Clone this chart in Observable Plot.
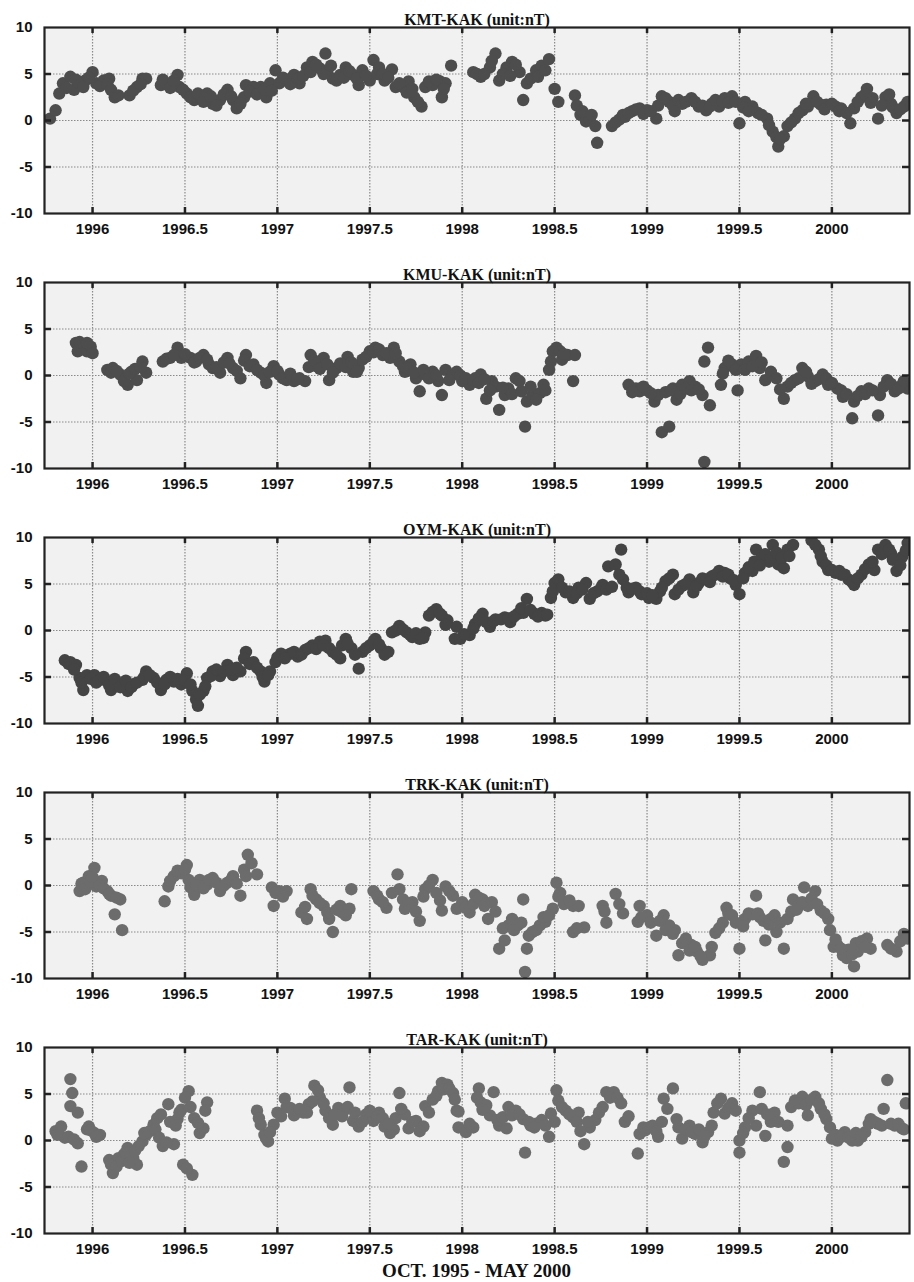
<!DOCTYPE html>
<html><head><meta charset="utf-8">
<script src="https://cdn.jsdelivr.net/npm/d3@7"></script>
<script src="https://cdn.jsdelivr.net/npm/@observablehq/plot@0.6"></script>
<style>
body{margin:0;background:#fff;}
#chart svg{display:block;}
.caption{font:bold 19px "Liberation Serif","Times New Roman",serif;text-align:center;padding:0 5px 0 44px;line-height:20px;color:#111;}
</style></head><body><div id="chart"></div><script>
const titles = ["KMT-KAK (unit:nT)","KMU-KAK (unit:nT)","OYM-KAK (unit:nT)","TRK-KAK (unit:nT)","TAR-KAK (unit:nT)"];
const caption = "OCT. 1995 - MAY 2000";
const xTicks = [1996,1996.5,1997,1997.5,1998,1998.5,1999,1999.5,2000];
const yTicks = [-10,-5,0,5,10];
const yGrid = [-5,0,5];
const dotColors = ["#4d4d4d","#4d4d4d","#444444","#6c6c6c","#6c6c6c"];

const KMT = [[1995.77,0.2],[1995.80,1.1],[1995.82,2.9],[1995.84,4.0],[1995.88,4.7],[1995.90,3.3],[1995.93,4.0],[1995.96,4.3],[1996.00,5.2],[1996.02,4.0],[1996.06,4.3],[1996.09,4.5],[1996.12,2.5],[1996.20,2.7],[1996.24,3.6],[1996.27,4.5],[1996.29,4.5],[1996.37,3.8],[1996.40,4.0],[1996.46,4.9],[1996.47,3.6],[1996.51,2.9],[1996.55,2.2],[1996.58,2.5],[1996.62,2.9],[1996.65,1.8],[1996.69,2.2],[1996.73,3.3],[1996.76,2.2],[1996.78,1.3],[1996.82,2.5],[1996.83,3.8],[1996.87,3.6],[1996.91,3.6],[1996.94,2.5],[1996.96,4.0],[1996.99,5.4],[1997.01,4.0],[1997.05,4.3],[1997.09,4.9],[1997.12,4.0],[1997.16,5.7],[1997.19,6.3],[1997.23,5.6],[1997.26,7.2],[1997.27,5.2],[1997.30,4.5],[1997.34,4.9],[1997.37,5.7],[1997.41,4.9],[1997.44,3.8],[1997.46,5.4],[1997.50,4.3],[1997.52,6.5],[1997.55,5.7],[1997.58,4.3],[1997.62,5.5],[1997.64,3.6],[1997.68,3.6],[1997.71,4.2],[1997.74,2.5],[1997.78,1.5],[1997.80,3.6],[1997.84,3.8],[1997.88,4.2],[1997.89,2.5],[1997.91,4.0],[1997.94,5.9],[1998.06,5.2],[1998.10,4.7],[1998.15,5.7],[1998.18,7.2],[1998.20,4.3],[1998.24,5.7],[1998.27,6.3],[1998.31,5.2],[1998.33,2.2],[1998.35,4.0],[1998.40,5.4],[1998.43,5.9],[1998.47,6.6],[1998.50,3.4],[1998.52,2.0],[1998.61,2.7],[1998.64,0.6],[1998.67,-0.1],[1998.69,0.1],[1998.72,-0.6],[1998.73,-2.4],[1998.81,-0.6],[1998.85,0.1],[1998.88,0.4],[1998.92,1.0],[1998.96,1.3],[1999.00,1.1],[1999.05,0.2],[1999.08,2.6],[1999.12,2.0],[1999.15,1.0],[1999.19,1.8],[1999.24,2.4],[1999.28,1.5],[1999.32,1.1],[1999.35,1.8],[1999.39,1.5],[1999.42,2.4],[1999.46,2.6],[1999.50,-0.3],[1999.53,2.0],[1999.57,1.5],[1999.60,0.8],[1999.65,0.2],[1999.68,-1.2],[1999.71,-2.8],[1999.74,-1.7],[1999.76,-0.6],[1999.80,0.2],[1999.84,1.1],[1999.87,1.5],[1999.90,2.6],[1999.94,1.7],[1999.97,1.7],[2000.02,1.5],[2000.05,1.3],[2000.10,-0.3],[2000.12,1.3],[2000.16,2.5],[2000.19,3.4],[2000.22,2.4],[2000.25,0.2],[2000.29,2.5],[2000.32,1.8],[2000.35,0.8],[2000.39,1.5],[2000.41,2.0],
[1995.86,3.5],[1995.91,4.4],[1995.95,3.6],[1995.98,4.6],[1996.04,3.7],[1996.08,3.9],[1996.10,3.3],[1996.14,2.7],[1996.22,3.2],[1996.26,3.9],[1996.38,4.4],[1996.42,3.5],[1996.44,4.3],[1996.49,3.3],[1996.53,2.5],[1996.57,2.9],[1996.60,2.0],[1996.64,2.6],[1996.67,1.6],[1996.71,2.8],[1996.75,2.6],[1996.80,1.8],[1996.85,3.1],[1996.89,2.8],[1996.93,3.3],[1996.97,3.2],[1997.03,4.6],[1997.07,3.9],[1997.11,4.5],[1997.14,4.8],[1997.18,5.2],[1997.21,6.0],[1997.25,5.0],[1997.29,5.9],[1997.32,4.3],[1997.36,4.6],[1997.39,5.3],[1997.43,4.5],[1997.48,4.8],[1997.54,5.0],[1997.57,5.0],[1997.60,4.6],[1997.66,4.0],[1997.70,3.0],[1997.73,3.4],[1997.76,2.0],[1997.82,4.2],[1997.86,4.4],[1997.90,3.4],
[1998.08,5.0],[1998.12,5.0],[1998.16,6.4],[1998.22,5.0],[1998.26,4.8],[1998.29,6.0],[1998.37,4.5],[1998.41,4.7],[1998.45,5.4],[1998.62,1.6],[1998.65,1.0],[1998.70,0.6],[1998.83,-0.2],[1998.87,0.6],[1998.90,0.8],[1998.94,1.2],[1998.98,0.7],[1999.02,1.0],[1999.06,1.6],[1999.10,2.4],[1999.14,1.6],[1999.17,2.2],[1999.21,2.0],[1999.26,2.0],[1999.30,1.6],[1999.34,1.5],[1999.37,2.2],[1999.41,2.0],[1999.44,1.9],[1999.48,2.0],[1999.52,1.4],[1999.55,1.0],[1999.62,0.6],[1999.66,-0.5],[1999.70,-1.8],[1999.72,-2.0],[1999.78,-0.2],[1999.82,0.8],[1999.86,1.8],[1999.92,2.0],[1999.96,1.2],[2000.00,1.8],[2000.04,1.0],[2000.08,0.8],[2000.14,2.0],[2000.18,2.8],[2000.21,1.9],[2000.27,1.6],[2000.31,2.8],[2000.33,1.4],[2000.37,1.2]];

const KMU = [[1995.91,3.5],[1995.92,2.6],[1995.95,3.3],[1995.97,2.6],[1995.99,3.1],[1996.00,2.4],[1996.08,0.6],[1996.11,0.8],[1996.15,0.1],[1996.19,-1.0],[1996.21,0.4],[1996.24,-0.5],[1996.27,1.5],[1996.29,0.3],[1996.38,1.5],[1996.42,1.9],[1996.46,3.0],[1996.48,1.9],[1996.53,1.9],[1996.56,1.5],[1996.60,2.2],[1996.63,1.2],[1996.65,0.8],[1996.69,0.3],[1996.73,1.9],[1996.76,0.8],[1996.80,-0.3],[1996.83,2.2],[1996.87,1.2],[1996.91,0.3],[1996.94,-0.8],[1996.98,1.0],[1997.01,0.1],[1997.05,-0.5],[1997.09,-0.6],[1997.12,-0.3],[1997.15,-0.6],[1997.18,2.2],[1997.21,1.0],[1997.25,1.9],[1997.28,-0.5],[1997.32,0.8],[1997.35,1.2],[1997.38,2.0],[1997.41,0.4],[1997.44,0.8],[1997.46,1.7],[1997.50,2.6],[1997.53,3.0],[1997.57,2.2],[1997.61,1.9],[1997.63,3.0],[1997.66,1.5],[1997.69,0.4],[1997.72,1.2],[1997.75,-0.3],[1997.77,-1.7],[1997.80,0.1],[1997.84,0.4],[1997.87,-0.6],[1997.89,-2.1],[1997.91,0.6],[1997.95,0.1],[1997.97,0.4],[1998.00,-0.6],[1998.04,-1.0],[1998.07,-0.3],[1998.10,0.1],[1998.13,-2.5],[1998.16,-0.6],[1998.18,-1.2],[1998.20,-3.7],[1998.23,-2.1],[1998.25,-1.4],[1998.29,-0.3],[1998.32,-1.7],[1998.34,-5.5],[1998.35,-2.8],[1998.38,-2.1],[1998.42,-1.9],[1998.44,-1.0],[1998.47,0.6],[1998.49,2.6],[1998.51,3.0],[1998.54,1.7],[1998.57,2.2],[1998.60,-0.6],[1998.61,2.2],[1998.90,-1.0],[1998.94,-1.4],[1998.96,-1.7],[1999.00,-1.6],[1999.04,-2.8],[1999.06,-2.1],[1999.08,-6.1],[1999.12,-5.5],[1999.14,-1.4],[1999.16,-2.6],[1999.19,-1.0],[1999.23,-0.6],[1999.26,-1.2],[1999.30,-2.1],[1999.31,-9.3],[1999.31,1.5],[1999.33,3.0],[1999.34,-3.2],[1999.40,-1.0],[1999.42,0.8],[1999.46,1.2],[1999.49,-1.6],[1999.51,1.2],[1999.55,1.5],[1999.59,2.1],[1999.61,0.8],[1999.64,-0.5],[1999.67,0.4],[1999.74,-2.5],[1999.76,-1.2],[1999.80,-0.5],[1999.84,0.8],[1999.87,-0.1],[1999.91,-0.6],[1999.95,0.1],[1999.98,-1.0],[2000.03,-1.4],[2000.06,-2.3],[2000.11,-4.6],[2000.12,-2.8],[2000.16,-1.7],[2000.20,-1.4],[2000.25,-4.3],[2000.26,-2.1],[2000.30,-0.5],[2000.34,-1.7],[2000.38,-1.0],[2000.41,-1.4],
[1995.93,3.6],[1995.97,3.5],[1996.10,0.3],[1996.13,0.5],[1996.17,-0.6],[1996.20,0.2],[1996.23,0.7],[1996.26,0.9],[1996.40,1.8],[1996.44,2.2],[1996.50,2.3],[1996.55,1.4],[1996.58,1.9],[1996.62,1.7],[1996.67,0.9],[1996.71,1.4],[1996.74,1.3],[1996.78,0.5],[1996.82,1.6],[1996.85,1.0],[1996.89,0.6],[1996.93,0.0],[1996.96,0.4],[1997.00,0.5],[1997.03,-0.3],[1997.07,0.2],[1997.11,-0.4],[1997.17,0.9],[1997.20,1.6],[1997.23,0.7],[1997.27,1.2],[1997.30,0.3],[1997.34,1.3],[1997.37,0.9],[1997.40,1.4],[1997.43,0.4],[1997.48,2.0],[1997.52,2.5],[1997.55,2.8],[1997.59,2.4],[1997.64,2.4],[1997.68,1.0],[1997.70,0.8],[1997.74,0.3],[1997.79,0.6],[1997.82,-0.3],[1997.86,0.0],[1997.93,-0.5],[1997.99,0.0],[1998.02,-0.3],[1998.06,-0.5],[1998.09,-0.8],[1998.12,-0.4],[1998.15,-1.6],[1998.22,-1.3],[1998.27,-2.0],[1998.31,-0.6],[1998.37,-1.2],[1998.40,-2.6],[1998.45,-1.6],[1998.48,1.5],[1998.53,2.6],[1998.55,2.3],[1998.92,-1.8],[1998.98,-1.2],[1999.02,-1.9],[1999.10,-1.8],[1999.13,-1.6],[1999.18,-2.0],[1999.21,-1.4],[1999.24,-1.6],[1999.28,-1.5],[1999.41,0.2],[1999.44,1.6],[1999.48,0.6],[1999.53,0.6],[1999.57,1.0],[1999.62,1.4],[1999.70,-0.3],[1999.72,-1.5],[1999.78,-0.8],[1999.82,-0.3],[1999.86,0.4],[1999.89,-0.9],[1999.93,-0.4],[1999.97,-0.3],[2000.00,-0.8],[2000.05,-1.6],[2000.08,-2.0],[2000.14,-2.2],[2000.18,-2.0],[2000.22,-1.6],[2000.28,-1.2],[2000.32,-0.9],[2000.36,-1.4],[2000.39,-0.6]];

const OYM = [[1995.85,-3.2],[1995.88,-3.4],[1995.91,-3.7],[1995.93,-5.1],[1995.95,-6.4],[1995.97,-4.8],[1996.01,-4.8],[1996.04,-5.3],[1996.08,-5.5],[1996.10,-6.4],[1996.13,-6.0],[1996.17,-5.7],[1996.19,-6.5],[1996.22,-5.8],[1996.27,-5.3],[1996.29,-4.4],[1996.33,-5.1],[1996.37,-6.4],[1996.40,-5.3],[1996.44,-5.5],[1996.48,-5.8],[1996.51,-4.6],[1996.54,-6.5],[1996.56,-7.4],[1996.57,-8.1],[1996.60,-6.5],[1996.62,-5.1],[1996.65,-4.4],[1996.69,-4.9],[1996.73,-3.7],[1996.76,-4.8],[1996.80,-4.4],[1996.83,-2.3],[1996.87,-3.4],[1996.91,-4.4],[1996.93,-5.5],[1996.96,-4.4],[1996.99,-3.4],[1997.02,-2.5],[1997.07,-2.5],[1997.11,-2.8],[1997.15,-2.1],[1997.19,-1.6],[1997.23,-1.2],[1997.26,-1.1],[1997.30,-2.3],[1997.34,-3.0],[1997.37,-0.9],[1997.40,-1.9],[1997.44,-4.1],[1997.46,-2.3],[1997.50,-1.6],[1997.53,-0.9],[1997.56,-1.9],[1997.60,-2.3],[1997.62,-0.2],[1997.66,0.5],[1997.70,-0.2],[1997.73,-0.7],[1997.77,-0.9],[1997.80,-0.2],[1997.82,1.6],[1997.86,2.3],[1997.89,1.6],[1997.92,1.1],[1997.96,-0.9],[1997.97,0.4],[1997.99,-0.9],[1998.04,-0.5],[1998.07,0.7],[1998.11,1.8],[1998.15,0.4],[1998.18,1.2],[1998.23,1.4],[1998.26,0.9],[1998.30,1.8],[1998.33,1.9],[1998.35,3.4],[1998.39,1.8],[1998.43,1.9],[1998.45,1.6],[1998.48,3.5],[1998.50,5.1],[1998.52,5.5],[1998.56,4.1],[1998.60,3.5],[1998.63,4.6],[1998.67,5.1],[1998.69,3.4],[1998.73,4.2],[1998.76,4.9],[1998.79,6.9],[1998.83,7.1],[1998.86,8.7],[1998.87,5.5],[1998.90,4.1],[1998.94,4.6],[1998.97,3.9],[1999.01,3.5],[1999.05,3.4],[1999.07,4.2],[1999.10,5.3],[1999.14,6.0],[1999.15,3.9],[1999.19,4.8],[1999.23,5.5],[1999.25,4.1],[1999.28,5.1],[1999.32,5.5],[1999.35,5.8],[1999.39,6.4],[1999.42,6.2],[1999.45,5.6],[1999.48,4.9],[1999.50,3.9],[1999.53,6.2],[1999.57,6.4],[1999.59,8.7],[1999.62,7.8],[1999.66,7.4],[1999.68,9.2],[1999.71,7.1],[1999.74,6.7],[1999.76,8.7],[1999.79,9.2],[1999.89,9.7],[1999.93,8.7],[1999.95,7.4],[1999.98,6.5],[2000.02,6.2],[2000.05,6.0],[2000.09,5.5],[2000.12,4.9],[2000.16,6.0],[2000.20,7.1],[2000.23,6.5],[2000.25,8.7],[2000.29,9.2],[2000.32,8.3],[2000.35,6.4],[2000.38,7.9],[2000.41,9.4],
[1995.87,-3.6],[1995.90,-4.2],[1995.94,-5.6],[1995.99,-5.2],[1996.02,-5.6],[1996.06,-5.0],[1996.09,-5.9],[1996.12,-5.2],[1996.15,-6.1],[1996.18,-5.4],[1996.21,-6.1],[1996.24,-5.6],[1996.28,-5.0],[1996.31,-4.8],[1996.35,-5.6],[1996.39,-5.8],[1996.42,-5.0],[1996.46,-5.2],[1996.50,-5.4],[1996.53,-5.8],[1996.58,-6.9],[1996.61,-6.0],[1996.64,-4.9],[1996.67,-4.2],[1996.71,-4.4],[1996.75,-4.2],[1996.78,-4.0],[1996.82,-3.0],[1996.85,-3.6],[1996.89,-4.0],[1996.92,-5.0],[1996.95,-4.8],[1997.00,-2.9],[1997.04,-3.0],[1997.09,-2.3],[1997.13,-2.6],[1997.17,-1.9],[1997.21,-2.0],[1997.25,-1.6],[1997.28,-1.9],[1997.32,-2.6],[1997.35,-1.6],[1997.38,-1.4],[1997.42,-2.6],[1997.48,-1.9],[1997.52,-1.2],[1997.55,-1.5],[1997.58,-2.6],[1997.64,0.0],[1997.68,0.1],[1997.72,-0.5],[1997.75,-0.3],[1997.79,-0.8],[1997.84,2.0],[1997.88,1.8],[1997.91,0.6],[1998.01,-0.4],[1998.06,0.2],[1998.09,1.3],[1998.13,0.9],[1998.17,1.0],[1998.21,1.2],[1998.25,1.3],[1998.28,1.5],[1998.32,2.4],[1998.37,2.2],[1998.41,1.5],[1998.46,1.7],[1998.49,4.2],[1998.54,4.6],[1998.58,4.2],[1998.62,4.0],[1998.65,4.4],[1998.71,4.0],[1998.75,4.5],[1998.78,4.4],[1998.81,4.7],[1998.85,6.0],[1998.89,4.6],[1998.92,4.5],[1998.96,4.2],[1999.00,4.0],[1999.03,3.8],[1999.08,4.6],[1999.12,5.6],[1999.17,4.4],[1999.21,5.0],[1999.27,4.8],[1999.30,5.6],[1999.34,5.2],[1999.37,6.0],[1999.41,5.8],[1999.44,6.0],[1999.47,5.4],[1999.52,5.6],[1999.55,6.8],[1999.58,7.4],[1999.61,7.0],[1999.64,8.2],[1999.67,7.8],[1999.70,8.4],[1999.73,7.8],[1999.77,8.0],[1999.91,9.2],[1999.94,8.0],[1999.97,7.0],[2000.00,6.5],[2000.04,6.4],[2000.07,6.0],[2000.11,5.2],[2000.14,5.6],[2000.18,6.6],[2000.22,7.4],[2000.27,8.2],[2000.31,8.7],[2000.33,7.6],[2000.37,7.0],[2000.40,8.6]];

const TRK = [[1995.93,-0.6],[1995.95,0.3],[1995.98,1.0],[1996.01,1.9],[1996.02,-0.1],[1996.05,0.5],[1996.08,-0.6],[1996.10,-1.1],[1996.12,-3.1],[1996.15,-1.5],[1996.16,-4.8],[1996.39,-1.7],[1996.41,-0.1],[1996.44,1.0],[1996.48,1.3],[1996.51,2.2],[1996.53,-0.2],[1996.55,-1.0],[1996.58,0.6],[1996.62,0.1],[1996.65,0.8],[1996.69,-0.6],[1996.73,0.3],[1996.76,1.0],[1996.80,-1.1],[1996.82,1.7],[1996.84,3.3],[1996.86,2.4],[1996.89,1.2],[1996.97,-0.2],[1996.98,-2.2],[1997.01,-0.6],[1997.05,-0.6],[1997.13,-2.9],[1997.16,-3.6],[1997.18,-0.4],[1997.21,-1.5],[1997.25,-2.2],[1997.28,-3.6],[1997.30,-5.0],[1997.34,-2.2],[1997.35,-2.9],[1997.39,-2.5],[1997.40,-0.4],[1997.52,-0.6],[1997.55,-1.5],[1997.59,-2.4],[1997.65,1.2],[1997.66,-0.4],[1997.69,-2.5],[1997.73,-1.8],[1997.77,-3.8],[1997.80,-0.4],[1997.84,0.6],[1997.86,-0.8],[1997.89,-2.7],[1997.91,-0.1],[1997.95,-1.1],[1997.97,-2.5],[1998.00,-1.8],[1998.04,-2.9],[1998.07,-1.0],[1998.11,-1.5],[1998.14,-3.6],[1998.16,-1.8],[1998.20,-6.8],[1998.23,-5.9],[1998.25,-4.3],[1998.27,-3.6],[1998.30,-4.3],[1998.33,-1.5],[1998.34,-9.3],[1998.35,-6.8],[1998.38,-5.0],[1998.42,-4.3],[1998.45,-3.9],[1998.49,-2.5],[1998.51,0.3],[1998.53,-0.8],[1998.56,-1.8],[1998.60,-2.2],[1998.60,-5.0],[1998.63,-2.2],[1998.66,-4.5],[1998.76,-2.2],[1998.78,-4.0],[1998.83,-0.9],[1998.87,-3.0],[1998.95,-3.9],[1998.96,-2.2],[1999.00,-3.2],[1999.05,-5.4],[1999.09,-3.2],[1999.12,-4.3],[1999.15,-4.8],[1999.17,-7.5],[1999.21,-5.7],[1999.24,-6.4],[1999.27,-7.1],[1999.30,-8.0],[1999.34,-7.5],[1999.37,-5.1],[1999.41,-4.0],[1999.43,-2.4],[1999.46,-3.2],[1999.50,-6.8],[1999.53,-3.6],[1999.57,-3.1],[1999.59,-1.1],[1999.61,-3.4],[1999.64,-5.9],[1999.67,-3.6],[1999.70,-5.0],[1999.74,-6.8],[1999.76,-3.6],[1999.79,-1.5],[1999.82,-2.2],[1999.85,-0.2],[1999.87,-2.2],[1999.91,-0.6],[1999.94,-2.7],[1999.98,-3.6],[2000.01,-6.6],[2000.03,-6.4],[2000.06,-7.5],[2000.09,-6.9],[2000.12,-8.7],[2000.14,-7.1],[2000.19,-5.7],[2000.21,-6.8],[2000.30,-6.4],[2000.35,-7.1],[2000.39,-5.2],[2000.41,-5.7],
[1995.94,0.2],[1995.96,-0.4],[1995.99,0.4],[1996.00,0.9],[1996.04,0.0],[1996.06,-0.3],[1996.09,-0.9],[1996.13,-1.3],[1996.42,0.5],[1996.46,1.6],[1996.50,1.7],[1996.52,0.6],[1996.56,0.0],[1996.60,-0.3],[1996.63,0.6],[1996.67,0.3],[1996.71,0.0],[1996.75,0.6],[1996.78,0.2],[1996.83,1.0],[1996.99,-0.8],[1997.03,-1.2],[1997.15,-2.3],[1997.19,-1.1],[1997.23,-1.9],[1997.27,-2.9],[1997.32,-2.6],[1997.37,-3.2],[1997.54,-1.1],[1997.57,-1.8],[1997.62,-0.8],[1997.68,-1.5],[1997.71,-2.0],[1997.75,-2.8],[1997.79,-1.2],[1997.82,0.0],[1997.88,-1.6],[1997.93,-0.6],[1998.02,-2.4],[1998.06,-2.0],[1998.09,-1.3],[1998.12,-2.2],[1998.18,-2.8],[1998.22,-4.6],[1998.28,-4.8],[1998.32,-4.0],[1998.36,-5.4],[1998.40,-4.8],[1998.44,-3.4],[1998.47,-3.2],[1998.52,-1.2],[1998.55,-2.0],[1998.58,-1.6],[1998.62,-4.6],[1998.77,-2.8],[1998.85,-2.0],[1998.97,-3.4],[1999.02,-4.0],[1999.07,-3.8],[1999.10,-4.8],[1999.14,-5.2],[1999.19,-6.2],[1999.23,-7.0],[1999.26,-6.6],[1999.29,-7.6],[1999.35,-6.6],[1999.39,-4.6],[1999.44,-3.0],[1999.48,-4.0],[1999.52,-4.4],[1999.55,-3.0],[1999.60,-3.0],[1999.63,-3.8],[1999.66,-4.2],[1999.69,-3.2],[1999.72,-4.0],[1999.78,-2.8],[1999.81,-2.6],[1999.84,-1.8],[1999.89,-1.4],[1999.92,-2.0],[1999.96,-3.0],[1999.99,-4.8],[2000.02,-5.8],[2000.05,-6.8],[2000.08,-7.8],[2000.11,-7.4],[2000.13,-6.2],[2000.16,-6.0],[2000.18,-6.6],[2000.32,-6.8],[2000.37,-6.0]];

const TAR = [[1995.80,1.0],[1995.83,1.5],[1995.85,0.3],[1995.88,6.6],[1995.89,5.1],[1995.88,3.7],[1995.92,3.0],[1995.92,-0.3],[1995.94,-2.8],[1995.97,1.2],[1995.98,1.5],[1996.01,0.8],[1996.04,0.6],[1996.09,-2.1],[1996.11,-3.5],[1996.14,-1.9],[1996.17,-1.5],[1996.19,-0.8],[1996.22,-1.9],[1996.24,-2.6],[1996.27,-0.1],[1996.29,0.6],[1996.33,1.7],[1996.35,2.4],[1996.37,2.8],[1996.38,-0.6],[1996.41,3.9],[1996.44,-0.4],[1996.46,2.3],[1996.48,3.3],[1996.49,-2.6],[1996.52,5.3],[1996.54,-3.7],[1996.55,2.4],[1996.58,0.8],[1996.60,1.3],[1996.62,4.1],[1996.89,3.2],[1996.91,1.7],[1996.93,0.6],[1996.95,-0.1],[1996.98,1.7],[1997.00,3.0],[1997.04,4.5],[1997.07,3.5],[1997.10,3.0],[1997.14,3.0],[1997.17,3.9],[1997.20,5.9],[1997.23,4.6],[1997.26,3.2],[1997.30,1.7],[1997.33,3.5],[1997.36,3.2],[1997.39,5.7],[1997.41,2.1],[1997.44,1.5],[1997.48,2.8],[1997.52,2.1],[1997.55,3.0],[1997.58,1.5],[1997.61,0.8],[1997.64,2.4],[1997.66,5.1],[1997.69,2.8],[1997.71,1.3],[1997.75,2.1],[1997.79,1.5],[1997.80,3.7],[1997.84,4.4],[1997.87,5.3],[1997.89,6.2],[1997.92,6.0],[1997.95,5.1],[1997.97,3.2],[1997.98,1.4],[1997.98,3.1],[1998.02,0.9],[1998.06,1.4],[1998.09,5.6],[1998.10,4.1],[1998.13,3.8],[1998.15,2.7],[1998.17,5.2],[1998.20,1.6],[1998.24,1.3],[1998.25,3.6],[1998.29,3.2],[1998.33,2.3],[1998.34,-1.3],[1998.37,1.6],[1998.40,1.8],[1998.43,2.2],[1998.47,0.4],[1998.50,2.0],[1998.51,5.4],[1998.52,4.3],[1998.56,3.2],[1998.60,2.5],[1998.63,3.0],[1998.66,-0.4],[1998.69,1.4],[1998.72,2.2],[1998.76,3.6],[1998.78,5.2],[1998.82,5.2],[1998.86,4.0],[1998.88,2.0],[1998.95,-1.4],[1998.96,0.7],[1998.99,1.1],[1999.03,1.6],[1999.06,0.4],[1999.09,4.5],[1999.11,3.4],[1999.14,5.6],[1999.16,2.3],[1999.19,0.2],[1999.23,1.6],[1999.26,0.7],[1999.30,-0.2],[1999.33,0.9],[1999.36,3.0],[1999.40,4.5],[1999.42,2.9],[1999.46,4.0],[1999.50,-1.3],[1999.50,0.0],[1999.53,1.4],[1999.57,3.2],[1999.59,1.6],[1999.61,5.2],[1999.64,0.5],[1999.67,2.0],[1999.69,3.0],[1999.74,-2.3],[1999.76,-0.7],[1999.76,1.6],[1999.80,4.3],[1999.84,4.7],[1999.87,2.7],[1999.91,4.7],[1999.94,3.4],[1999.97,2.3],[2000.00,0.2],[2000.03,0.0],[2000.07,0.9],[2000.11,0.0],[2000.14,0.0],[2000.18,0.9],[2000.21,2.3],[2000.25,1.8],[2000.28,3.4],[2000.30,6.5],[2000.34,1.6],[2000.38,1.3],[2000.40,4.0],
[1995.81,0.6],[1995.87,0.4],[1995.90,0.1],[1995.99,1.1],[1996.02,0.4],[1996.10,-2.6],[1996.13,-2.8],[1996.16,-2.2],[1996.18,-1.3],[1996.20,-2.4],[1996.23,-1.1],[1996.25,-0.6],[1996.28,0.8],[1996.31,1.0],[1996.34,1.2],[1996.36,0.3],[1996.40,-0.2],[1996.42,2.0],[1996.45,1.6],[1996.47,3.0],[1996.50,4.6],[1996.51,-3.0],[1996.53,3.6],[1996.57,1.9],[1996.61,3.2],[1996.90,2.4],[1996.94,0.2],[1996.96,0.9],[1997.02,2.6],[1997.05,3.6],[1997.09,2.7],[1997.12,3.4],[1997.16,3.0],[1997.19,4.2],[1997.22,5.4],[1997.25,4.0],[1997.28,2.4],[1997.31,2.8],[1997.35,2.6],[1997.38,3.6],[1997.42,3.0],[1997.46,2.0],[1997.50,3.2],[1997.54,2.6],[1997.57,2.4],[1997.60,1.8],[1997.63,1.2],[1997.67,3.4],[1997.73,2.0],[1997.77,1.0],[1997.82,3.0],[1997.86,4.8],[1997.90,5.5],[1997.93,5.6],[1997.96,4.4],
[1998.04,1.8],[1998.08,4.6],[1998.11,3.3],[1998.19,2.2],[1998.22,2.5],[1998.27,2.7],[1998.31,2.8],[1998.36,2.0],[1998.39,1.4],[1998.45,1.6],[1998.48,2.9],[1998.54,3.6],[1998.58,2.8],[1998.62,2.0],[1998.64,1.0],[1998.68,2.0],[1998.74,3.0],[1998.80,4.6],[1998.84,4.6],[1998.90,2.6],[1998.98,1.4],[1999.01,1.4],[1999.05,1.0],[1999.08,2.0],[1999.17,1.4],[1999.21,1.2],[1999.24,0.9],[1999.28,1.2],[1999.31,0.4],[1999.35,1.6],[1999.38,4.0],[1999.44,3.5],[1999.48,3.2],[1999.52,0.8],[1999.55,2.4],[1999.62,3.4],[1999.65,2.8],[1999.71,2.0],[1999.78,3.6],[1999.82,4.0],[1999.86,3.8],[1999.89,4.4],[1999.93,4.0],[1999.96,2.8],[1999.99,1.4],[2000.02,0.6],[2000.05,0.4],[2000.09,0.3],[2000.13,0.8],[2000.16,0.4],[2000.20,1.8],[2000.23,2.0],[2000.27,1.6],[2000.32,1.8],[2000.36,1.8],[2000.39,1.2]];

const series = [KMT, KMU, OYM, TRK, TAR];

const W = 914, ML = 44, MR = 5, MT = 27, FH = 186;
const FW = W - ML - MR;
const chart = document.getElementById("chart");
const tickStyle = {stroke: "#222", strokeWidth: 2.5};
const fmt = d => String(d);

series.forEach((data, i) => {
  const last = i === series.length - 1;
  const MB = last ? 28 : 42;
  const svg = Plot.plot({
    width: W,
    height: MT + FH + MB,
    marginLeft: ML, marginRight: MR, marginTop: MT, marginBottom: MB,
    style: {background: "#fff", fontFamily: "'Liberation Sans', Arial, sans-serif", fontSize: "15px", overflow: "visible"},
    x: {domain: [1995.74, 2000.42], label: null},
    y: {domain: [-10, 10], label: null},
    marks: [
      Plot.frame({fill: "#f1f1f1", stroke: "none"}),
      Plot.ruleX(xTicks, {stroke: "#8a8a8a", strokeWidth: 1.2, strokeDasharray: "1.5,1.5"}),
      Plot.ruleY(yGrid, {stroke: "#8a8a8a", strokeWidth: 1.2, strokeDasharray: "1.5,1.5"}),
      Plot.dot(data, {x: d => d[0], y: d => d[1], r: 6.2, fill: dotColors[i], stroke: "none", clip: true}),
      Plot.tickX(xTicks, {x: d => d, insetTop: FH - 6, ...tickStyle}),
      Plot.tickX(xTicks, {x: d => d, insetBottom: FH - 6, ...tickStyle}),
      Plot.tickY(yGrid, {y: d => d, insetRight: FW - 7, ...tickStyle}),
      Plot.tickY(yGrid, {y: d => d, insetLeft: FW - 7, ...tickStyle}),
      Plot.frame({stroke: "#222", strokeWidth: 2.2}),
      Plot.axisX(xTicks, {tickSize: 0, tickPadding: 10, fontSize: 15, tickFormat: fmt, fill: "#111", fontWeight: "bold"}),
      Plot.axisY(yTicks, {tickSize: 0, tickPadding: 12, fontSize: 15, tickFormat: fmt, fill: "#111", fontWeight: "bold"}),
      Plot.text([titles[i]], {frameAnchor: "top", dy: -14, fontSize: 16, fontWeight: "bold", fontFamily: "'Liberation Serif','Times New Roman',serif", fill: "#111"})
    ]
  });
  svg.querySelectorAll("text").forEach(t => t.setAttribute("font-weight", "bold"));
  chart.appendChild(svg);
});

const cap = document.createElement("div");
cap.className = "caption";
cap.textContent = caption;
chart.appendChild(cap);
</script></body></html>
